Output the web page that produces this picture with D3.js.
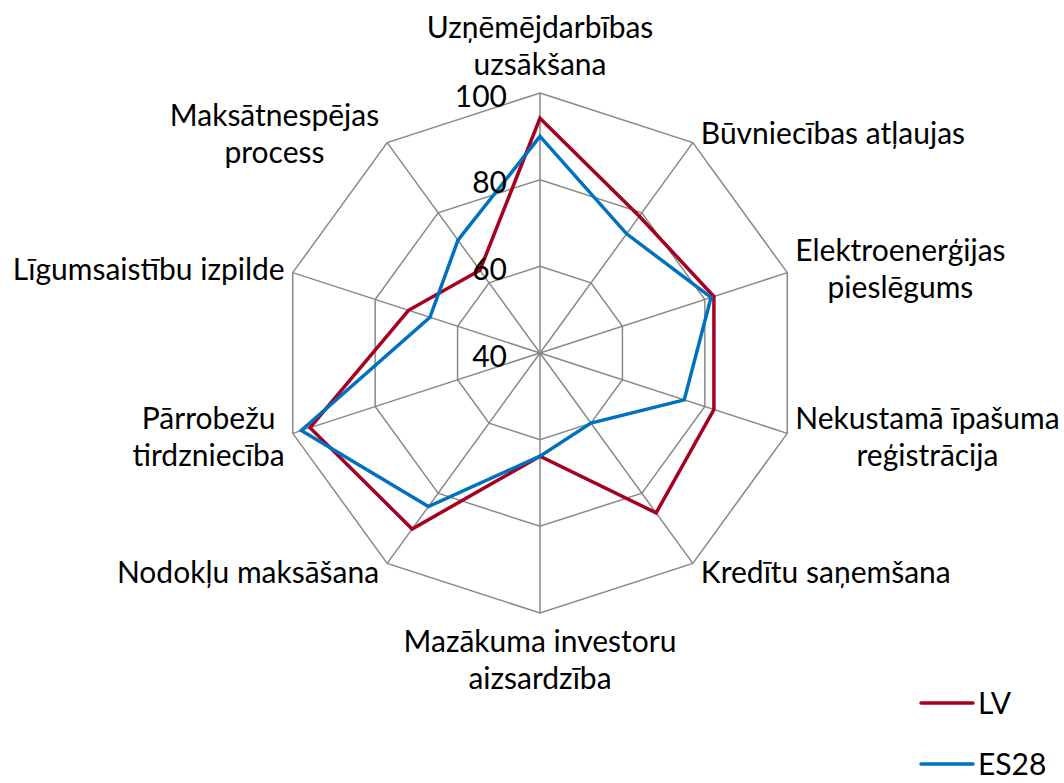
<!DOCTYPE html>
<html>
<head>
<meta charset="utf-8">
<script src="https://cdn.jsdelivr.net/npm/d3@7"></script>
<style>
  body { margin: 0; background: #fff; }
  text { font-family: Lato, "Open Sans", sans-serif; fill: #000; }
</style>
</head>
<body>
<svg id="chart" width="1064" height="783"></svg>
<script>
// categories, each entry is the lines of its label
var categories = [
  ["Uzņēmējdarbības", "uzsākšana"],
  ["Būvniecības atļaujas"],
  ["Elektroenerģijas", "pieslēgums"],
  ["Nekustamā īpašuma", "reģistrācija"],
  ["Kredītu saņemšana"],
  ["Mazākuma investoru", "aizsardzība"],
  ["Nodokļu maksāšana"],
  ["Pārrobežu", "tirdzniecība"],
  ["Līgumsaistību izpilde"],
  ["Maksātnespējas", "process"]
];
var lvValues   = [94.2, 79, 82.2, 82.2, 85.6, 63.8, 90.2, 95.8, 71.9, 63.6];
var es28Values = [90.0, 74, 81.5, 75.0, 60.0, 63.8, 83.8, 97.9, 66.7, 72.2];
var tickValues = [40, 60, 80, 100];
var seriesNames = ["LV", "ES28"];
var seriesColors = ["#A50021", "#0070C0"];

var svg = d3.select("#chart");
var cx = 540, cy = 353, radius = 260;
var fontSize = 30;

var r = d3.scaleLinear().domain([40, 100]).range([0, radius]);
var angle = d3.scaleLinear().domain([0, categories.length]).range([0, 2 * Math.PI]);

function pt(i, v){
  var a = angle(i);
  return [cx + r(v) * Math.sin(a), cy - r(v) * Math.cos(a)];
}

var g = svg.append("g");

// grid rings (decagons)
g.selectAll(".ring")
    .data(tickValues.slice(1))
    .enter()
    .append("polygon")
    .attr("class", "ring")
    .attr("points", function(t){
      return categories.map(function(c, i){ return pt(i, t).join(","); }).join(" ");
    })
    .attr("fill", "none")
    .attr("stroke", "#898989")
    .attr("stroke-width", 1.5);

// spokes
g.selectAll(".spoke")
    .data(categories)
    .enter()
    .append("line")
    .attr("class", "spoke")
    .attr("x1", cx).attr("y1", cy)
    .attr("x2", function(d, i){ return pt(i, 100)[0]; })
    .attr("y2", function(d, i){ return pt(i, 100)[1]; })
    .attr("stroke", "#898989")
    .attr("stroke-width", 1.5);

// series
var series = [lvValues, es28Values];
var line = d3.line().curve(d3.curveLinearClosed);
g.selectAll(".series")
    .data(series)
    .enter()
    .append("path")
    .attr("class", "series")
    .attr("d", function(vals){ return line(vals.map(function(v, i){ return pt(i, v); })); })
    .attr("fill", "none")
    .attr("stroke", function(d, i){ return seriesColors[i]; })
    .attr("stroke-width", 3.5)
    .attr("stroke-linejoin", "miter");

// tick labels along the top spoke
g.selectAll(".tick")
    .data(tickValues)
    .enter()
    .append("text")
    .attr("class", "tick")
    .attr("x", cx - 33)
    .attr("y", function(t){ return cy - r(t) + 3; })
    .attr("dy", "0.35em")
    .attr("text-anchor", "end")
    .attr("font-size", fontSize)
    .text(function(t){ return t; });

// category labels, lines centered inside a box placed next to the vertex
var lineH = 37;
categories.forEach(function(lines, i){
  var a = angle(i);
  var s = Math.sin(a), c = Math.cos(a);
  var v = pt(i, 100);
  var t = g.append("text").attr("font-size", fontSize).attr("text-anchor", "middle");
  var spans = t.selectAll("tspan").data(lines).enter().append("tspan").text(function(d){ return d; });
  var w = d3.max(spans.nodes(), function(n){ return n.getComputedTextLength(); });
  var boxX;
  if (Math.abs(s) < 0.1) boxX = v[0];
  else if (s > 0) boxX = v[0] + 8 + w / 2;
  else boxX = v[0] - 8 - w / 2;
  var h = lines.length * lineH;
  var midY;
  if (c > 0.99) midY = v[1] - 10 - h / 2;
  else if (c < -0.99) midY = v[1] + 10 + h / 2;
  else midY = v[1] - 11 * c;
  spans.attr("x", boxX)
      .attr("y", function(d, j){ return midY - h / 2 + lineH * (j + 0.5); })
      .attr("dy", "0.35em");
});

// legend
var legend = svg.selectAll(".legend")
    .data(seriesNames)
    .enter()
    .append("g")
    .attr("class", "legend")
    .attr("transform", function(d, i){ return "translate(921," + (703 + i * 61) + ")"; });
legend.append("line")
    .attr("x1", 0).attr("x2", 52)
    .attr("stroke", function(d, i){ return seriesColors[i]; })
    .attr("stroke-width", 3.5)
    .attr("stroke-linecap", "round");
legend.append("text")
    .attr("x", 57)
    .attr("dy", "0.35em")
    .attr("font-size", fontSize)
    .text(function(d){ return d; });
</script>
</body>
</html>
